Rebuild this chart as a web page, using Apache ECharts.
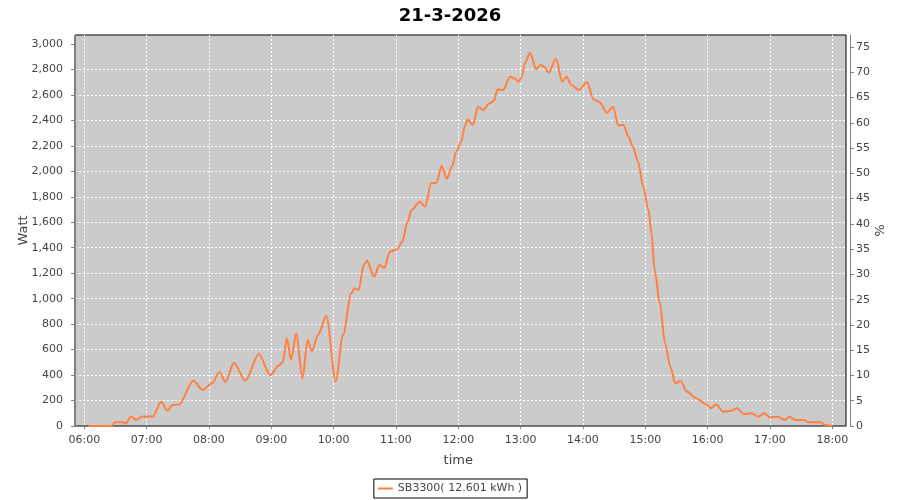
<!DOCTYPE html>
<html>
<head>
<meta charset="utf-8">
<script src="https://cdn.jsdelivr.net/npm/echarts@6/dist/echarts.min.js"></script>
<style>html,body{margin:0;padding:0;background:#fff}#c{width:900px;height:500px}</style>
</head>
<body>
<div id="c"></div>
<script>
const chartTitle = '21-3-2026';
const seriesName = 'SB3300( 12.601 kWh )';
const times = ['06:04','06:26','06:30','06:37','06:40','06:45','06:50','06:55','07:06','07:14',
 '07:20','07:25','07:31','07:45','07:54','08:03','08:10','08:16','08:24','08:35',
 '08:48','08:59','09:07','09:11','09:15','09:19','09:24','09:30','09:35','09:39',
 '09:45','09:53','10:02','10:09','10:17','10:20','10:24','10:29','10:32','10:39',
 '10:44','10:49','10:54','11:01','11:06','11:11','11:15','11:23','11:28','11:34',
 '11:39','11:44','11:49','11:54','11:58','12:03','12:06','12:09','12:14','12:19',
 '12:24','12:30','12:34','12:38','12:43','12:50','12:54','12:58','13:01','13:04',
 '13:09','13:15','13:19','13:23','13:27','13:34','13:40','13:44','13:49','13:56',
 '14:04','14:10','14:16','14:23','14:29','14:34','14:39','14:44','14:48','14:53',
 '14:58','15:03','15:06','15:09','15:14','15:19','15:24','15:29','15:34','15:40',
 '15:48','15:59','16:03','16:08','16:15','16:23','16:28','16:35','16:42','16:49',
 '16:54','17:00','17:08','17:14','17:19','17:24','17:33','17:37','17:49','17:53',
 '18:00'];
const watts = [0,0,29,29,22,73,47,73,75,191,
 120,165,168,356,283,335,424,346,497,356,
 565,400,474,500,689,518,728,374,675,589,
 715,866,350,715,1042,1081,1068,1264,1298,1173,
 1264,1243,1369,1387,1447,1600,1696,1761,1722,1906,
 1911,2042,1942,2040,2154,2233,2350,2408,2364,2508,
 2482,2534,2552,2644,2639,2743,2730,2704,2740,2848,
 2932,2801,2837,2820,2777,2884,2704,2743,2678,2639,
 2699,2566,2543,2461,2508,2360,2364,2272,2193,2076,
 1879,1696,1513,1225,964,650,466,335,353,270,
 222,170,139,170,112,120,139,94,100,73,
 100,68,73,47,73,47,47,29,29,8,
 0];
const wattTicks = [0,200,400,600,800,1000,1200,1400,1600,1800,2000,2200,2400,2600,2800,3000];
const pctTicks = [0,5,10,15,20,25,30,35,40,45,50,55,60,65,70,75];
const hourTicks = ['06:00','07:00','08:00','09:00','10:00','11:00','12:00','13:00','14:00','15:00','16:00','17:00','18:00'];

const toMin = s => { const p = s.split(':'); return (+p[0]) * 60 + (+p[1]); };
const fmtMin = v => { const h = Math.floor(v / 60), m = Math.round(v % 60); return String(h).padStart(2,'0') + ':' + String(m).padStart(2,'0'); };
const seriesData = times.map((t, i) => [toMin(t), watts[i]]);

const FONT = 'DejaVu Sans';
const WMAX = 3070.7, PMAX = 77.37;
const tMin = toMin(hourTicks[0]), tMax = toMin(hourTicks[hourTicks.length - 1]);

const chart = echarts.init(document.getElementById('c'), null, {renderer: 'canvas'});
chart.setOption({
  animation: false,
  backgroundColor: '#ffffff',
  textStyle: {fontFamily: FONT},
  title: {
    text: chartTitle, left: 'center', top: 2,
    textStyle: {fontFamily: FONT, fontSize: 18, fontWeight: 'bold', color: '#000'}
  },
  legend: {
    bottom: 2, left: 'center',
    data: [seriesName],
    icon: 'rect', itemWidth: 15, itemHeight: 2,
    padding: [4, 5, 4, 4],
    borderColor: '#000', borderWidth: 1, borderRadius: 0,
    textStyle: {fontFamily: FONT, fontSize: 11, color: '#444'}
  },
  grid: [
    {left: 75, top: 35, width: 771, height: 391, show: true, backgroundColor: '#cbcbcb', borderColor: '#000', borderWidth: 1, containLabel: false},
    {left: 84.3, top: 35, width: 748, height: 391, show: false, containLabel: false}
  ],
  xAxis: [
    {gridIndex: 0, type: 'value', min: 0, max: 1, offset: 4,
     axisLine: {show: true, lineStyle: {color: '#808080', width: 1}},
     axisTick: {show: false}, axisLabel: {show: false}, splitLine: {show: false}},
    {gridIndex: 1, type: 'value', min: tMin, max: tMax, interval: 60, offset: 4,
     name: 'time', nameLocation: 'middle', nameGap: 24, nameMoveOverlap: false,
     nameTextStyle: {fontFamily: FONT, fontSize: 13, color: '#444'},
     axisLine: {show: false},
     axisTick: {show: true, length: 3, lineStyle: {color: '#808080'}},
     axisLabel: {show: true, margin: 5, fontFamily: FONT, fontSize: 11, color: '#444', formatter: v => fmtMin(v)},
     splitLine: {show: true, lineStyle: {color: '#ffffff', width: 1, type: [2, 2]}}}
  ],
  yAxis: [
    {gridIndex: 0, type: 'value', position: 'left', min: 0, max: WMAX, interval: 200, offset: 4,
     name: 'Watt', nameLocation: 'middle', nameGap: 41, nameMoveOverlap: false,
     nameTextStyle: {fontFamily: FONT, fontSize: 13, color: '#444'},
     axisLine: {show: true, lineStyle: {color: '#808080', width: 1}},
     axisTick: {show: true, length: 4, customValues: wattTicks, lineStyle: {color: '#808080'}},
     axisLabel: {show: true, margin: 8, customValues: wattTicks, fontFamily: FONT, fontSize: 11, color: '#444',
       formatter: v => Number(v).toLocaleString('en-US')},
     splitLine: {show: true, showMinLine: false, showMaxLine: false, lineStyle: {color: '#ffffff', width: 1, type: [2, 2]}}},
    {gridIndex: 0, type: 'value', position: 'right', min: 0, max: PMAX, interval: 5, offset: 4,
     name: '%', nameLocation: 'middle', nameGap: 22, nameRotate: -90, nameMoveOverlap: false,
     nameTextStyle: {fontFamily: FONT, fontSize: 13, color: '#444'},
     axisLine: {show: true, lineStyle: {color: '#808080', width: 1}},
     axisTick: {show: true, length: 4, customValues: pctTicks, lineStyle: {color: '#808080'}},
     axisLabel: {show: true, margin: 6, customValues: pctTicks, fontFamily: FONT, fontSize: 11, color: '#444'},
     splitLine: {show: false}},
    {gridIndex: 1, type: 'value', min: 0, max: WMAX, show: false, splitLine: {show: false}}
  ],
  series: [{
    name: seriesName, type: 'line', xAxisIndex: 1, yAxisIndex: 2,
    data: seriesData, showSymbol: false, symbol: 'none',
    smooth: 0.3, smoothMonotone: 'x',
    lineStyle: {color: '#ff8040', width: 2},
    itemStyle: {color: '#ff8040'}
  }]
});
</script>
</body>
</html>
